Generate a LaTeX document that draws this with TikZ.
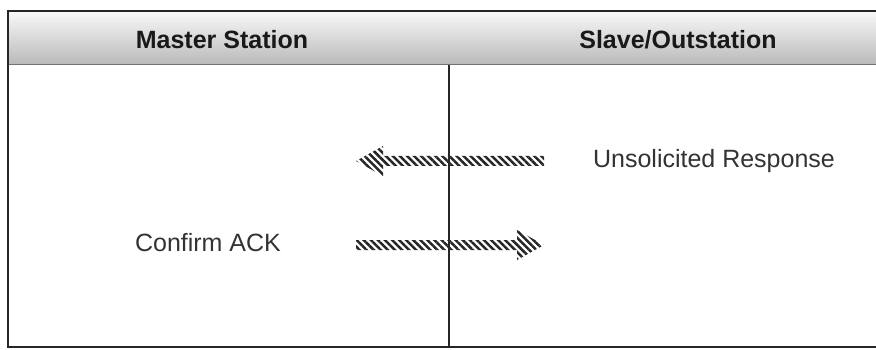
\documentclass[tikz,border=0pt]{standalone}
\usepackage{fontspec}
\setmainfont{Liberation Sans}
\usetikzlibrary{patterns.meta,calc}
\definecolor{framecol}{HTML}{262626}
\definecolor{inkcol}{HTML}{333333}
\tikzset{
  frameline/.style={draw=framecol, line width=2.6pt},
  divider/.style={draw=framecol, line width=1.1pt},
  headtext/.style={font=\fontsize{25}{29}\selectfont\bfseries, text=black!90, inner sep=0pt},
  msgtext/.style={font=\fontsize{25}{29}\selectfont, text=inkcol, inner sep=0pt},
  hatch/.style={pattern={Lines[angle=-45,distance=5pt,line width=2.5pt]}, pattern color=black!85},
}
\begin{document}
\begin{tikzpicture}[x=1pt,y=-1pt]
  \useasboundingbox (0,0) rectangle (876,350);
  % header band with vertical gradient
  \shade[top color=black!3, bottom color=black!27] (8,12) rectangle (880,64);
  \draw[draw=black!55, line width=1.6pt] (8,64.5) -- (880,64.5);
  % outer frame (open on the right)
  \draw[frameline] (880,11) -- (8,11) -- (8,347) -- (880,347);
  % column divider
  \coordinate (divtop) at (449,65);
  \coordinate (divbot) at (449,347);
  \draw[divider] (divtop) -- (divbot);
  % column headings
  \node[headtext] (master) at (222,40) {Master Station};
  \node[headtext] (slave) at (678,40) {Slave/Outstation};
  % message labels
  \node[msgtext] (unsol) at (714,161) {Unsolicited Response};
  \node[msgtext] (ack) at (208,243) {Confirm ACK};
  % hatched message arrows
  \coordinate (r1tail) at (544,161);
  \coordinate (r1tip) at (356,161);
  \coordinate (r2tail) at (356,245);
  \coordinate (r2tip) at (544,245);
  \fill[hatch] ([yshift=5pt]r1tail) -- ([xshift=27pt,yshift=5pt]r1tip)
    -- ([xshift=27pt,yshift=15pt]r1tip) -- (r1tip)
    -- ([xshift=27pt,yshift=-15pt]r1tip) -- ([xshift=27pt,yshift=-5pt]r1tip)
    -- ([yshift=-5pt]r1tail) -- cycle;
  \fill[hatch] ([yshift=5pt]r2tail) -- ([xshift=-27pt,yshift=5pt]r2tip)
    -- ([xshift=-27pt,yshift=15pt]r2tip) -- (r2tip)
    -- ([xshift=-27pt,yshift=-15pt]r2tip) -- ([xshift=-27pt,yshift=-5pt]r2tip)
    -- ([yshift=-5pt]r2tail) -- cycle;
\end{tikzpicture}
\end{document}
